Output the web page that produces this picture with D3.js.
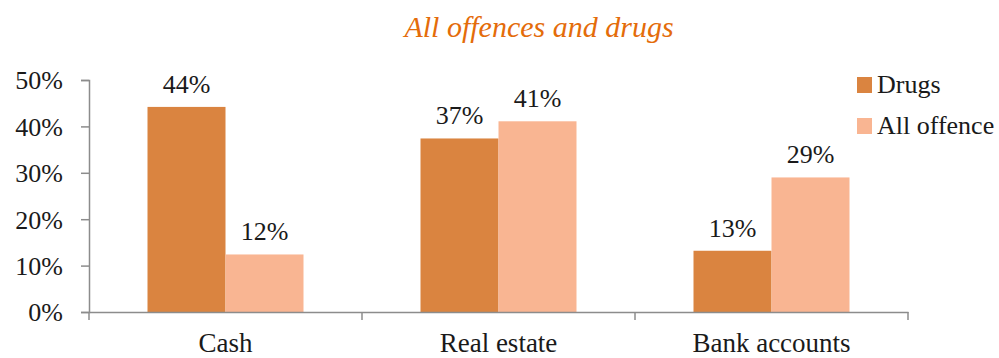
<!DOCTYPE html>
<html><head><meta charset="utf-8">
<script src="https://cdn.jsdelivr.net/npm/d3@7"></script>
<style>
body{margin:0;background:#fff;}
svg{display:block;}
text{font-family:"Liberation Serif","DejaVu Serif",serif;fill:#1a1a1a;}
</style></head>
<body>
<svg id="chart" width="999" height="358"></svg>
<script>
const title = "All offences and drugs";
const categories = ["Cash", "Real estate", "Bank accounts"];
const seriesNames = ["Drugs", "All offence"];
const drugs = [0.442, 0.374, 0.132];
const allOffence = [0.124, 0.411, 0.29];
const yTicks = [0, 0.1, 0.2, 0.3, 0.4, 0.5];
const colors = ["#DA8440", "#F9B592"];

const svg = d3.select("#chart");
const mLeft = 89, mRight = 908, mTop = 80, mBottom = 312;
const seriesValues = [drugs, allOffence];
const FS = 26;
const FF = "Liberation Serif";

const y = d3.scaleLinear().domain([0, 0.5]).range([mBottom, mTop]);
const x0 = d3.scaleBand().domain(categories).range([mLeft, mRight]).padding(0);
const x1 = d3.scaleBand().domain(seriesNames).range([0, x0.bandwidth()]).paddingInner(0).paddingOuter(0.75);

// title
svg.append("text").attr("x", 539).attr("y", 37).attr("text-anchor", "middle")
  .style("font-style", "italic").style("font-size", "30px").style("fill", "#E46C0A").text(title);

// bars
categories.forEach((c, i) => {
  seriesNames.forEach((s, j) => {
    const v = seriesValues[j][i];
    svg.append("rect").attr("x", x0(c) + x1(s)).attr("y", y(v))
      .attr("width", x1.bandwidth()).attr("height", y(0) - y(v)).attr("fill", colors[j]);
    svg.append("text").attr("x", x0(c) + x1(s) + x1.bandwidth() / 2).attr("y", y(v) - 14)
      .attr("text-anchor", "middle").style("font-size", FS + "px").text(d3.format(".0%")(v));
  });
});

// y axis
const yAxis = svg.append("g").attr("transform", `translate(${mLeft},0)`)
  .call(d3.axisLeft(y).tickValues(yTicks).tickFormat(d3.format(".0%")).tickSize(8).tickPadding(18));
yAxis.select(".domain").attr("stroke", "#8c8c8c").attr("stroke-width", 1.5);
yAxis.selectAll(".tick line").attr("stroke", "#8c8c8c").attr("stroke-width", 1.5);
yAxis.selectAll(".tick text").style("font-size", FS + "px").style("font-family", FF).attr("fill", "#1a1a1a").attr("dy", "0.34em");

// x axis
const xAxis = svg.append("g").attr("transform", `translate(0,${mBottom})`)
  .call(d3.axisBottom(x0).tickSize(0).tickPadding(21));
xAxis.select(".domain").attr("stroke", "#8c8c8c").attr("stroke-width", 1.5);
xAxis.selectAll(".tick text").style("font-size", "27px").style("font-family", FF).attr("fill", "#1a1a1a");
const bounds = categories.map(c => x0(c)).concat([x0(categories[categories.length - 1]) + x0.bandwidth()]);
xAxis.selectAll(".bound").data(bounds).enter().append("line")
  .attr("x1", d => d).attr("x2", d => d).attr("y1", 0).attr("y2", 8)
  .attr("stroke", "#8c8c8c").attr("stroke-width", 1.5);

// legend
const lg = svg.append("g");
seriesNames.forEach((s, j) => {
  const yy = 77 + j * 41;
  lg.append("rect").attr("x", 857).attr("y", yy).attr("width", 15).attr("height", 16).attr("fill", colors[j]);
  lg.append("text").attr("x", 877).attr("y", yy + 16).style("font-size", "26px").text(s);
});
</script>
</body></html>
